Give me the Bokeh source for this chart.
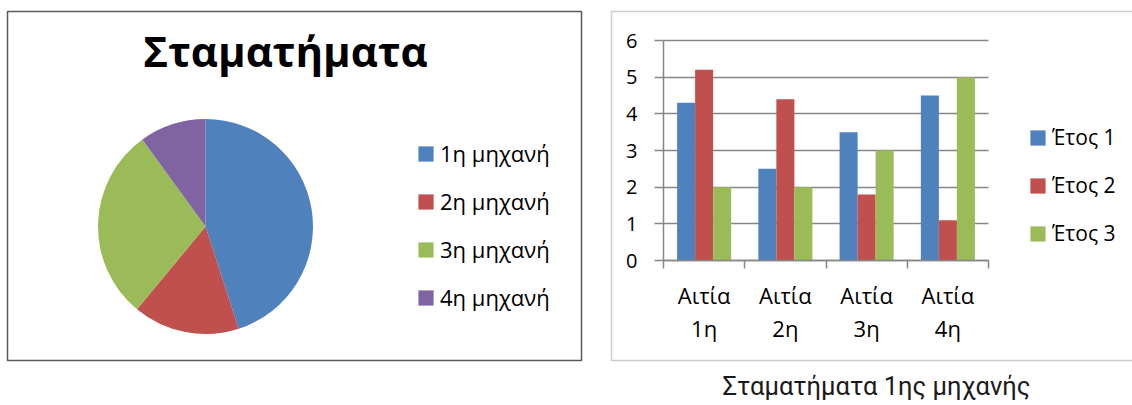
import numpy as np
from bokeh.plotting import figure
from bokeh.models import (Range1d, Legend, LegendItem, FixedTicker, Label,
                          BoxAnnotation, ColumnDataSource)
from bokeh.layouts import row
from bokeh.embed import file_html
from bokeh.resources import INLINE

# --- data -------------------------------------------------------------
machines = ["1η μηχανή", "2η μηχανή", "3η μηχανή", "4η μηχανή"]
machine_stops = [4.5, 1.6, 2.9, 1.0]

causes = ["Αιτία\n1η", "Αιτία\n2η", "Αιτία\n3η", "Αιτία\n4η"]
years = ["Έτος 1", "Έτος 2", "Έτος 3"]
year1 = [4.3, 2.5, 3.5, 4.5]
year2 = [5.2, 4.4, 1.8, 1.1]
year3 = [2.0, 2.0, 3.0, 5.0]
y_ticks = [0, 1, 2, 3, 4, 5, 6]

pie_title = "Σταματήματα"
bar_caption = "Σταματήματα 1ης μηχανής"

# --- styling ----------------------------------------------------------
COLORS = ["#4F81BD", "#C0504D", "#9BBB59", "#8064A2"]
FONT = "Open Sans"
CAPTION_FONT = "Roboto"
GRID = "#868686"
FRAME = "#5a5a5a"

# --- pie panel ----------------------------------------------------------
left = figure(width=600, height=405, output_backend="svg", toolbar_location=None,
              x_range=Range1d(0, 574), y_range=Range1d(0, 349),
              min_border_left=7, min_border_right=19,
              min_border_top=11, min_border_bottom=45, frame_align=False)
left.axis.visible = False
left.grid.visible = False
left.outline_line_color = FRAME
left.outline_line_width = 1.5
left.background_fill_color = "white"
left.border_fill_color = "white"

frac = np.array(machine_stops) / np.sum(machine_stops)
ends = np.cumsum(frac)
starts = ends - frac
pie_src = ColumnDataSource(dict(
    machine=machines,
    start=np.pi / 2 - starts * 2 * np.pi,
    end=np.pi / 2 - ends * 2 * np.pi,
    color=COLORS,
))
wedges = left.wedge(x=198, y=134, radius=107.5, radius_units="screen",
                    start_angle="start", end_angle="end", direction="clock",
                    fill_color="color", line_color=None, source=pie_src)

left.add_layout(Label(x=285, y=50, x_units="canvas", y_units="canvas",
                      text=pie_title, text_align="center",
                      text_baseline="alphabetic", text_font=FONT,
                      text_font_style="bold", text_font_size="42px",
                      text_color="black"))

pie_legend = Legend(
    items=[LegendItem(label=m, renderers=[wedges], index=i)
           for i, m in enumerate(machines)],
    location=(409, 48), orientation="vertical",
    glyph_width=19, glyph_height=19, label_standoff=5,
    label_height=30, spacing=18, padding=0, margin=0,
    border_line_color=None, background_fill_alpha=0,
    label_text_font=FONT, label_text_font_size="22px",
    label_text_color="black",
)
left.add_layout(pie_legend, "center")

# --- grouped bar panel --------------------------------------------------
# The frame covers the whole boxed panel plus the caption below it; the
# plot area (axes at x=0 / y=0) sits inside it at fixed pixel offsets.
W, H = 532, 405
FR_L, FR_T = 9, 9                 # frame origin on the canvas
AX_L, AX_R = 63, 388              # plot-area left/right on the canvas
AX_T, AX_B = 40, 260              # plot-area top/bottom on the canvas
n_cat = len(causes)
y_max = y_ticks[-1]
px_x = (AX_R - AX_L) / n_cat
px_y = (AX_B - AX_T) / y_max

right = figure(width=W, height=H, output_backend="svg", toolbar_location=None,
               x_range=Range1d(-(AX_L - FR_L) / px_x, (W - AX_L) / px_x),
               y_range=Range1d(-(H - AX_B) / px_y, (AX_B - FR_T) / px_y),
               min_border_left=FR_L, min_border_top=FR_T,
               min_border_right=0, min_border_bottom=0, frame_align=False)
right.outline_line_color = None
right.background_fill_color = "white"
right.border_fill_color = "white"

# panel frame box (its right edge lies past the page)
right.add_layout(BoxAnnotation(left=11, right=W + 40, top=11, bottom=360,
                               left_units="canvas", right_units="canvas",
                               top_units="canvas", bottom_units="canvas",
                               fill_alpha=0, line_color=FRAME, line_width=1.5,
                               level="underlay"))

centers = np.arange(n_cat) + 0.5
bar_w = 0.2217
series = [year1, year2, year3]
bars = []
for j, vals in enumerate(series):
    src = ColumnDataSource(dict(x=centers + (j - 1) * bar_w, top=vals))
    bars.append(right.vbar(x="x", top="top", bottom=0, width=bar_w,
                           fill_color=COLORS[j], line_color=None, source=src))

# y axis drawn at x = 0
yax = right.yaxis[0]
yax.fixed_location = 0
yax.bounds = (0, y_max)
yax.ticker = FixedTicker(ticks=y_ticks, minor_ticks=[])
yax.axis_line_color = GRID
yax.axis_line_width = 1.5
yax.major_tick_line_color = GRID
yax.major_tick_line_width = 1.5
yax.major_tick_out = 9
yax.major_tick_in = 0
yax.minor_tick_line_color = None
yax.major_label_standoff = 17
yax.major_label_text_font = FONT
yax.major_label_text_font_size = "20px"
yax.major_label_text_color = "black"

# x axis drawn at y = 0: labels at category centres, ticks on boundaries
xax = right.xaxis[0]
xax.fixed_location = 0
xax.bounds = (0, n_cat)
xax.ticker = FixedTicker(ticks=list(centers), minor_ticks=list(range(n_cat + 1)))
xax.major_label_overrides = {float(c): lab for c, lab in zip(centers, causes)}
xax.axis_line_color = GRID
xax.axis_line_width = 1.5
xax.major_tick_line_color = None
xax.major_tick_out = 0
xax.major_tick_in = 0
xax.minor_tick_line_color = GRID
xax.minor_tick_line_width = 1.5
xax.minor_tick_out = 8
xax.minor_tick_in = 0
xax.major_label_standoff = 11
xax.major_label_text_font = FONT
xax.major_label_text_font_size = "22px"
xax.major_label_text_line_height = 1.13
xax.major_label_text_color = "black"

right.xgrid.visible = False
right.ygrid.ticker = FixedTicker(ticks=y_ticks, minor_ticks=[])
right.ygrid.bounds = (0, y_max)
right.ygrid.cross_bounds = (0, n_cat)
right.ygrid.grid_line_color = GRID
right.ygrid.grid_line_width = 1.5

bar_legend = Legend(
    items=[LegendItem(label=y, renderers=[b]) for y, b in zip(years, bars)],
    location=(428 - FR_L, H - 248), orientation="vertical",
    glyph_width=19, glyph_height=19, label_standoff=5,
    label_height=30, spacing=18, padding=0, margin=0,
    border_line_color=None, background_fill_alpha=0,
    label_text_font=FONT, label_text_font_size="21px",
    label_text_color="black",
)
right.add_layout(bar_legend, "center")

right.add_layout(Label(x=276, y=385, x_units="canvas", y_units="canvas",
                       text=bar_caption, text_align="center",
                       text_baseline="alphabetic", text_font=CAPTION_FONT,
                       text_font_size="25.5px", text_color="#1a1a1a"))

layout = row(left, right, spacing=0)
open("out.html", "w").write(file_html(layout, INLINE))
